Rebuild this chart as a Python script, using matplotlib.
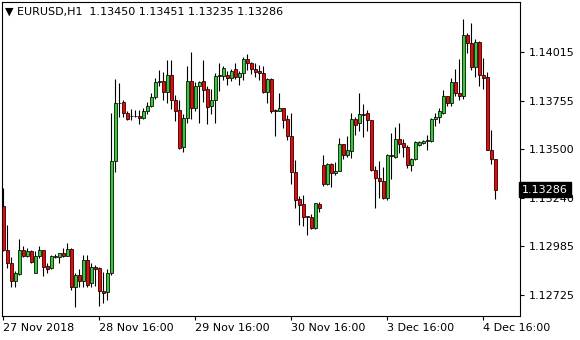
import numpy as np
import matplotlib
matplotlib.use('Agg')
from matplotlib import pyplot as plt
import matplotlib.transforms as mtransforms

plt.rcParams['font.family'] = ['DejaVu Sans']

# EURUSD H1 candles, 27 Nov 16:00 .. 4 Dec 19:00
opens = [1.13198, 1.12965, 1.12896, 1.12801, 1.12838, 1.12965, 1.12933, 1.12960, 1.12843, 1.12933,
         1.12965, 1.12880, 1.12870, 1.12928, 1.12928, 1.12949, 1.12933, 1.12970, 1.12769, 1.12833,
         1.12801, 1.12912, 1.12791, 1.12875, 1.12870, 1.12748, 1.12743, 1.12843, 1.13436, 1.13743,
         1.13753, 1.13695, 1.13674, 1.13674, 1.13674, 1.13664, 1.13701, 1.13727, 1.13775, 1.13859,
         1.13864, 1.13806, 1.13896, 1.13759, 1.13706, 1.13510, 1.13664, 1.13864, 1.13717, 1.13838,
         1.13864, 1.13822, 1.13727, 1.13759, 1.13896, 1.13891, 1.13896, 1.13880, 1.13928, 1.13885,
         1.13907, 1.13981, 1.13955, 1.13928, 1.13917, 1.13907, 1.13806, 1.13875, 1.13706, 1.13701,
         1.13717, 1.13658, 1.13568, 1.13378, 1.13235, 1.13208, 1.13145, 1.13140, 1.13081, 1.13208,
         1.13415, 1.13314, 1.13420, 1.13372, 1.13383, 1.13526, 1.13468, 1.13489, 1.13658, 1.13637,
         1.13685, 1.13690, 1.13653, 1.13388, 1.13346, 1.13330, 1.13240, 1.13468, 1.13457, 1.13552,
         1.13531, 1.13510, 1.13415, 1.13447, 1.13521, 1.13531, 1.13542, 1.13542, 1.13658, 1.13669,
         1.13695, 1.13780, 1.13743, 1.13859, 1.13801, 1.13780, 1.14108, 1.14065, 1.13938, 1.14071,
         1.13896, 1.13885, 1.13494, 1.13450]
highs = [1.13293, 1.13097, 1.12928, 1.12854, 1.13024, 1.12986, 1.12975, 1.12965, 1.12960, 1.12986,
         1.12965, 1.12896, 1.12939, 1.12944, 1.12949, 1.12975, 1.13002, 1.12975, 1.12843, 1.12865,
         1.12939, 1.12939, 1.12896, 1.12886, 1.12875, 1.12849, 1.12865, 1.13695, 1.13875, 1.13854,
         1.13759, 1.13701, 1.13711, 1.13706, 1.13706, 1.13717, 1.13753, 1.13796, 1.13880, 1.13922,
         1.13912, 1.13975, 1.13975, 1.13790, 1.13759, 1.13685, 1.13944, 1.14018, 1.13859, 1.13864,
         1.13975, 1.13833, 1.13822, 1.13907, 1.13960, 1.13944, 1.13917, 1.13928, 1.13960, 1.13917,
         1.13991, 1.14007, 1.13965, 1.13960, 1.13949, 1.13944, 1.13880, 1.13880, 1.13711, 1.13796,
         1.13717, 1.13680, 1.13695, 1.13441, 1.13251, 1.13256, 1.13145, 1.13156, 1.13214, 1.13219,
         1.13468, 1.13425, 1.13425, 1.13431, 1.13558, 1.13526, 1.13568, 1.13695, 1.13669, 1.13796,
         1.13738, 1.13706, 1.13653, 1.13410, 1.13436, 1.13404, 1.13473, 1.13584, 1.13616, 1.13637,
         1.13552, 1.13521, 1.13452, 1.13542, 1.13542, 1.13547, 1.13574, 1.13664, 1.13695, 1.13717,
         1.13817, 1.13785, 1.13880, 1.13928, 1.13981, 1.14192, 1.14118, 1.14171, 1.14086, 1.14076,
         1.13986, 1.13912, 1.13600, 1.13451]
lows = [1.12960, 1.12870, 1.12769, 1.12769, 1.12833, 1.12928, 1.12928, 1.12896, 1.12843, 1.12923,
        1.12828, 1.12843, 1.12865, 1.12923, 1.12896, 1.12928, 1.12933, 1.12754, 1.12664, 1.12769,
        1.12769, 1.12769, 1.12769, 1.12775, 1.12669, 1.12685, 1.12701, 1.12833, 1.13378, 1.13669,
        1.13669, 1.13653, 1.13653, 1.13669, 1.13632, 1.13658, 1.13685, 1.13722, 1.13769, 1.13833,
        1.13764, 1.13748, 1.13711, 1.13648, 1.13500, 1.13484, 1.13642, 1.13658, 1.13701, 1.13637,
        1.13753, 1.13632, 1.13685, 1.13642, 1.13811, 1.13870, 1.13843, 1.13864, 1.13875, 1.13843,
        1.13870, 1.13922, 1.13901, 1.13885, 1.13870, 1.13796, 1.13748, 1.13695, 1.13568, 1.13701,
        1.13611, 1.13547, 1.13314, 1.13187, 1.13097, 1.13092, 1.13045, 1.13076, 1.13076, 1.13166,
        1.13304, 1.13309, 1.13298, 1.13362, 1.13383, 1.13447, 1.13457, 1.13452, 1.13574, 1.13595,
        1.13563, 1.13595, 1.13383, 1.13187, 1.13240, 1.13235, 1.13230, 1.13341, 1.13452, 1.13478,
        1.13457, 1.13399, 1.13383, 1.13441, 1.13515, 1.13526, 1.13494, 1.13537, 1.13621, 1.13642,
        1.13685, 1.13727, 1.13727, 1.13780, 1.13759, 1.13769, 1.14012, 1.13922, 1.13885, 1.13833,
        1.13822, 1.13494, 1.13420, 1.13235]
closes = [1.12965, 1.12896, 1.12801, 1.12843, 1.12965, 1.12933, 1.12960, 1.12902, 1.12933, 1.12965,
          1.12875, 1.12865, 1.12933, 1.12933, 1.12949, 1.12933, 1.12970, 1.12769, 1.12833, 1.12801,
          1.12912, 1.12780, 1.12875, 1.12865, 1.12748, 1.12738, 1.12843, 1.13436, 1.13743, 1.13748,
          1.13695, 1.13658, 1.13674, 1.13674, 1.13664, 1.13701, 1.13732, 1.13775, 1.13859, 1.13864,
          1.13806, 1.13896, 1.13759, 1.13701, 1.13505, 1.13664, 1.13864, 1.13717, 1.13833, 1.13859,
          1.13817, 1.13722, 1.13759, 1.13891, 1.13891, 1.13933, 1.13880, 1.13917, 1.13885, 1.13907,
          1.13981, 1.13960, 1.13928, 1.13912, 1.13907, 1.13806, 1.13875, 1.13701, 1.13701, 1.13717,
          1.13653, 1.13568, 1.13378, 1.13230, 1.13203, 1.13140, 1.13140, 1.13081, 1.13214, 1.13187,
          1.13314, 1.13420, 1.13372, 1.13383, 1.13526, 1.13468, 1.13494, 1.13658, 1.13627, 1.13685,
          1.13680, 1.13653, 1.13388, 1.13346, 1.13330, 1.13240, 1.13468, 1.13462, 1.13552, 1.13526,
          1.13510, 1.13415, 1.13447, 1.13537, 1.13537, 1.13542, 1.13547, 1.13658, 1.13669, 1.13701,
          1.13780, 1.13743, 1.13859, 1.13801, 1.13780, 1.14108, 1.14065, 1.13938, 1.14071, 1.13896,
          1.13880, 1.13494, 1.13447, 1.13286]

price_ticks = [1.12725, 1.12985, 1.13240, 1.13500, 1.13755, 1.14015]
time_ticks = [0, 24, 48, 72, 96, 120]
time_labels = ['27 Nov 2018', '28 Nov 16:00', '29 Nov 16:00', '30 Nov 16:00', '3 Dec 16:00', '4 Dec 16:00']
title = '\u25bc EURUSD,H1  1.13450 1.13451 1.13235 1.13286'

o = np.array(opens)
h = np.array(highs)
l = np.array(lows)
c = np.array(closes)
x = np.arange(len(o))

fig = plt.figure(figsize=(5.8, 3.4), dpi=100)
ax = fig.add_axes([2 / 580, 24 / 340, 518 / 580, 314 / 340])

up = c >= o
colors = np.where(up, '#32cd32', '#ff0000')
bottom = np.minimum(o, c)
height = np.maximum(np.abs(c - o), 0.000015)

ax.vlines(x, l, h, color='black', linewidth=0.8, zorder=1)
ax.bar(x, height, width=0.78, bottom=bottom, color=colors, edgecolor='black',
       linewidth=0.55, zorder=2)

ax.set_xlim(-0.33, 129.2)
ax.set_ylim(1.12616, 1.14281)

ax.yaxis.tick_right()
ax.set_yticks(price_ticks)
ax.set_yticklabels(['%.5f' % v for v in price_ticks])
ax.set_xticks(time_ticks)
ax.set_xticklabels(time_labels, ha='left')
ax.tick_params(axis='both', direction='out', length=3, width=0.8, labelsize=8, colors='black')
ax.tick_params(axis='x', pad=2)
ax.tick_params(axis='y', pad=3)
for s in ax.spines.values():
    s.set_linewidth(0.8)

# current price label
trans = mtransforms.blended_transform_factory(ax.transAxes, ax.transData)
ax.text(1.004, closes[-1], '%.5f' % closes[-1], transform=trans, ha='left', va='center',
        fontsize=8, color='white',
        bbox=dict(boxstyle='square,pad=0.25', facecolor='black', edgecolor='black'))

ax.text(0.006, 0.985, title, transform=ax.transAxes, ha='left', va='top', fontsize=8)

fig.savefig('out.png', dpi=100)
